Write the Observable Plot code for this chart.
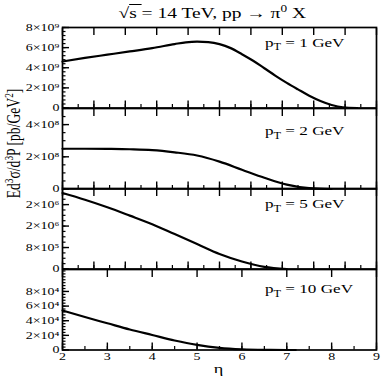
<!DOCTYPE html>
<html><head><meta charset="utf-8">
<script src="https://cdn.jsdelivr.net/npm/d3@7"></script>
<script src="https://cdn.jsdelivr.net/npm/@observablehq/plot@0.6"></script>
<style>
body{margin:0;background:#fff;}
#chart{position:relative;width:382px;height:376px;overflow:hidden;font-family:"Liberation Serif","DejaVu Serif",serif;color:#000;background:#fff;}
.abs{position:absolute;white-space:nowrap;line-height:1;}
.sup{font-size:0.68em;position:relative;top:-0.55em;}
.sub{font-size:0.72em;position:relative;top:0.38em;}
</style></head><body><div id="chart"></div>
<script>
// ---- data ----
const eta1 = [2, 2.5, 3, 3.5, 4, 4.5, 4.75, 5, 5.25, 5.5, 5.75, 6, 6.25, 6.5, 6.75, 7, 7.25, 7.5, 7.75, 8, 8.25, 8.57];
const val1 = [4.62e9, 4.98e9, 5.3e9, 5.62e9, 5.95e9, 6.35e9, 6.53e9, 6.6e9, 6.55e9, 6.35e9, 5.95e9, 5.35e9, 4.7e9, 3.95e9, 3.2e9, 2.5e9, 1.85e9, 1.22e9, 0.7e9, 0.3e9, 0.07e9, 0];
const eta2 = [2, 2.5, 3, 3.5, 4, 4.5, 5, 5.5, 6, 6.5, 7, 7.5, 8];
const val2 = [2.5e8, 2.5e8, 2.49e8, 2.47e8, 2.42e8, 2.28e8, 2.08e8, 1.7e8, 1.2e8, 0.7e8, 0.27e8, 0.05e8, 0];
const eta3 = [2, 2.5, 3, 3.5, 4, 4.5, 5, 5.5, 6, 6.5, 7];
const val3 = [2.83e6, 2.58e6, 2.3e6, 1.99e6, 1.67e6, 1.3e6, 0.93e6, 0.56e6, 0.28e6, 0.08e6, 0];
const eta4 = [2, 2.5, 3, 3.5, 4, 4.5, 5, 5.5, 6, 6.5, 7, 7.2];
const val4 = [5.4e4, 4.5e4, 3.65e4, 2.8e4, 2.05e4, 1.3e4, 0.7e4, 0.3e4, 0.1e4, 0.02e4, 0, 0];

const ptLabels = ["1", "2", "5", "10"];
const yTicks1 = [0, 2e9, 4e9, 6e9, 8e9];
const yLabels1 = ["0", "2×10⁹", "4×10⁹", "6×10⁹", "8×10⁹"];
const yTicks2 = [0, 2e8, 4e8];
const yLabels2 = ["0", "2×10⁸", "4×10⁸"];
const yTicks3 = [0, 8e5, 1.6e6, 2.4e6];
const yLabels3 = ["0", "8×10⁵", "2×10⁶", "2×10⁶"];
const yTicks4 = [0, 2e4, 4e4, 6e4, 8e4];
const yLabels4 = ["0", "2×10⁴", "4×10⁴", "6×10⁴", "8×10⁴"];
const xTicks = [2, 3, 4, 5, 6, 7, 8, 9];
const xLabels = ["2", "3", "4", "5", "6", "7", "8", "9"];

// ---- layout ----
const W = 382, ML = 62, MR = 6;
const panelTops = [27, 107.5, 188, 268.5];
const panelH = 80.5;
const FONT = "'Liberation Serif','DejaVu Serif',serif";

const panels = [
  {eta: eta1, val: val1, yMax: 8e9, ticks: yTicks1, labels: yLabels1, minor: 0.4e9},
  {eta: eta2, val: val2, yMax: 5e8, ticks: yTicks2, labels: yLabels2, minor: 0.5e8},
  {eta: eta3, val: val3, yMax: 3e6, ticks: yTicks3, labels: yLabels3, minor: 2e5},
  {eta: eta4, val: val4, yMax: 1.1e5, ticks: yTicks4, labels: yLabels4, minor: 0.4e4}
];

const chart = document.getElementById("chart");
const range = (a, b, s) => d3.range(0, Math.floor((b - a) / s + 1e-6) + 1).map(k => a + k * s);

panels.forEach((p, i) => {
  const last = i === 3;
  const mt = 12, mb = last ? 30 : 12;
  const labelMap = new Map(p.ticks.map((t, k) => [t, p.labels[k]]));
  const data = p.eta.map((e, k) => ({eta: e, v: p.val[k]}));
  const xMajTop = last ? xTicks : range(2, 9, 0.7);
  const xMajBot = last ? xTicks : range(2, 9, 0.7);
  const xMinBot = last ? range(2, 9, 0.5) : range(2, 9, 0.35);
  const marks = [
    Plot.axisY({ticks: range(0, p.yMax, p.minor), tickSize: 3.5, dx: 3.5, fill: "none", label: null, strokeWidth: 1.2}),
    Plot.axisY({ticks: p.ticks, tickSize: 7, dx: 7, fill: "none", label: null, strokeWidth: 1.4}),
    Plot.axisY({ticks: p.ticks, tickSize: 0, tickPadding: 3, stroke: "none", label: null,
      tickFormat: d => labelMap.get(d), fontSize: 10}),
    Plot.axisX({anchor: "bottom", ticks: xMinBot, tickSize: 3.5, dy: -3.5, fill: "none", label: null, strokeWidth: 1.2}),
    Plot.axisX({anchor: "bottom", ticks: xMajBot, tickSize: 7, dy: -7, fill: "none", label: null, strokeWidth: 1.4}),
    Plot.axisX({anchor: "top", ticks: xMajTop, tickSize: 7, dy: 7, fill: "none", label: null, strokeWidth: 1.4}),
    Plot.frame({stroke: "black", strokeWidth: 1.7}),
    Plot.line(data, {x: "eta", y: "v", stroke: "black", strokeWidth: 2.2, curve: "monotone-x"})
  ];
  if (last) {
    marks.push(Plot.axisX({anchor: "bottom", ticks: xTicks, tickSize: 0, tickPadding: 3, stroke: "none", label: null,
      tickFormat: d => xLabels[xTicks.indexOf(d)], fontSize: 10}));
  }
  const svg = Plot.plot({
    width: W, height: panelH + mt + mb,
    marginLeft: ML, marginRight: MR, marginTop: mt, marginBottom: mb,
    style: {background: "transparent", overflow: "visible", fontFamily: FONT, fontSize: "10px"},
    x: {domain: [2, 9]},
    y: {domain: [0, p.yMax]},
    marks
  });
  svg.style.position = "absolute";
  svg.style.left = "0px";
  svg.style.top = (panelTops[i] - mt) + "px";
  chart.appendChild(svg);
  // stretch tick labels horizontally like the reference
  svg.querySelectorAll('g[aria-label$="tick label"] text').forEach(t => {
    t.setAttribute("transform", (t.getAttribute("transform") || "") + " scale(1.4,1)");
  });
});

// ---- HTML text overlays ----
function addText(html, fs) {
  const el = document.createElement("div");
  el.className = "abs";
  el.style.fontSize = fs + "px";
  el.innerHTML = html;
  chart.appendChild(el);
  return el;
}
// title
{
  const el = addText('√<span style="text-decoration:overline">s&nbsp;</span>= 14 TeV, pp → π<span class="sup">0</span> X', 15);
  const w = el.offsetWidth, h = el.offsetHeight;
  const sx = 187 / w;
  el.style.left = (211.5 - w / 2) + "px";
  el.style.top = (13 - h / 2) + "px";
  el.style.transformOrigin = "center";
  el.style.transform = `scale(${sx},1)`;
}
// panel labels
{
  const cys = [42.4, 130.8, 203.5, 288.5];
  let sx = null;
  ptLabels.forEach((pt, i) => {
    const el = addText(`p<span class="sub">T</span> = ${pt} GeV`, 13);
    const w = el.offsetWidth, h = el.offsetHeight;
    if (sx === null) sx = 79 / w;
    el.style.left = "265px";
    el.style.top = (cys[i] - h / 2) + "px";
    el.style.transformOrigin = "left center";
    el.style.transform = `scale(${sx},1)`;
  });
}
// y-axis label
{
  const el = addText('Ed<span class="sup">3</span>σ/d<span class="sup">3</span>P [pb/GeV<span class="sup">2</span>]', 13);
  const w = el.offsetWidth, h = el.offsetHeight;
  const sl = 110 / w;
  el.style.left = (13 - w / 2) + "px";
  el.style.top = (143 - h / 2) + "px";
  el.style.transformOrigin = "center";
  el.style.transform = `rotate(-90deg) scale(${sl},1.4)`;
}
// x-axis label
{
  const el = addText('η', 13);
  const w = el.offsetWidth, h = el.offsetHeight;
  el.style.left = (218 - w / 2) + "px";
  el.style.top = (368 - h / 2) + "px";
  el.style.transformOrigin = "center";
  el.style.transform = "scale(1.4,1)";
}
</script></body></html>
